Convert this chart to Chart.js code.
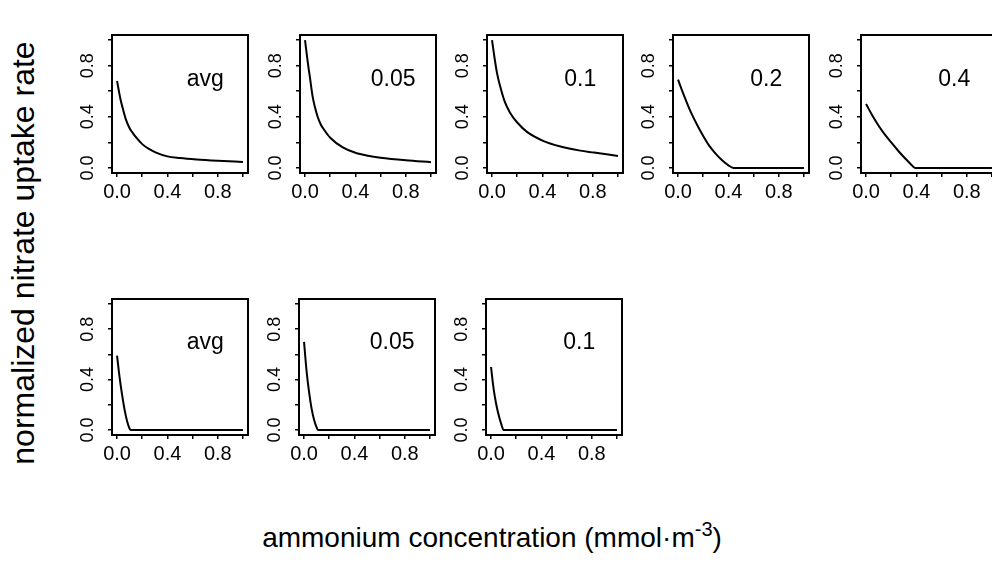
<!DOCTYPE html>
<html>
<head>
<meta charset="utf-8">
<script src="https://cdn.jsdelivr.net/npm/chart.js@4.4.1/dist/chart.umd.min.js"></script>
<style>
  html, body { margin: 0; padding: 0; background: #fff; width: 992px; height: 565px; overflow: hidden; position: relative; font-family: "Liberation Sans", Arial, sans-serif; }
  canvas { position: absolute; }
  .ytitle { position: absolute; font-size: 32px; line-height: 32px; white-space: nowrap; width: 480px; text-align: center; color: #000;
            left: -217px; top: 237px; transform: rotate(-90deg); transform-origin: 240px 16px; }
  .xtitle { position: absolute; font-size: 28px; line-height: 28px; white-space: nowrap; width: 600px; text-align: center; color: #000;
            left: 192px; top: 524px; }
  .xtitle sup { font-size: 20px; line-height: 0; vertical-align: 11px; }
</style>
</head>
<body>
<div class="ytitle">normalized nitrate uptake rate</div>
<div class="xtitle">ammonium concentration (mmol·m<sup>-3</sup>)</div>
<script>
// ---- data ----
const panelLabels = ["avg", "0.05", "0.1", "0.2", "0.4", "avg", "0.05", "0.1"];

const xTopAvg = [0, 0.015, 0.03, 0.05, 0.07, 0.1, 0.12, 0.15, 0.2, 0.25, 0.31, 0.4, 0.5, 0.63, 0.8, 1.0];
const yTopAvg = [0.68, 0.6, 0.525, 0.45, 0.38, 0.31, 0.28, 0.24, 0.186, 0.15, 0.12, 0.09, 0.077, 0.066, 0.056, 0.047];

const xTop005 = [0, 0.02, 0.04, 0.06, 0.08, 0.1, 0.125, 0.15, 0.2, 0.3, 0.4, 0.5, 0.6, 0.8, 1.0];
const yTop005 = [1.0, 0.84, 0.70, 0.56, 0.47, 0.40, 0.34, 0.30, 0.236, 0.16, 0.118, 0.095, 0.08, 0.06, 0.045];

const xTop01 = [0, 0.02, 0.04, 0.064, 0.1, 0.144, 0.2, 0.28, 0.41, 0.544, 0.7, 0.81, 1.0];
const yTop01 = [1.0, 0.86, 0.74, 0.64, 0.52, 0.43, 0.355, 0.28, 0.21, 0.167, 0.135, 0.12, 0.093];

const xTop02 = [0, 0.05, 0.1, 0.15, 0.2, 0.25, 0.3, 0.35, 0.4, 0.44, 0.6, 0.8, 1.0];
const yTop02 = [0.69, 0.56, 0.44, 0.34, 0.25, 0.17, 0.11, 0.06, 0.02, 0.0, 0.0, 0.0, 0.0];

const xTop04 = [0, 0.05, 0.1, 0.15, 0.2, 0.25, 0.3, 0.35, 0.39, 0.6, 0.8, 1.0];
const yTop04 = [0.5, 0.41, 0.33, 0.26, 0.2, 0.14, 0.085, 0.035, 0.0, 0.0, 0.0, 0.0];

const xBottom = [0, 0.02, 0.04, 0.06, 0.08, 0.1, 0.11, 0.3, 0.6, 1.0];
const yBotAvg = [0.59, 0.42, 0.28, 0.16, 0.07, 0.01, 0.0, 0.0, 0.0, 0.0];
const yBot005 = [0.70, 0.47, 0.30, 0.17, 0.08, 0.02, 0.0, 0.0, 0.0, 0.0];
const yBot01  = [0.50, 0.33, 0.21, 0.12, 0.05, 0.0, 0.0, 0.0, 0.0, 0.0];

const axisTicks = [0.0, 0.4, 0.8]; // labelled ticks

const panels = [
  { label: panelLabels[0], xs: xTopAvg, ys: yTopAvg, left: 112, top: 35,  h: 138 },
  { label: panelLabels[1], xs: xTop005, ys: yTop005, left: 300, top: 35,  h: 138 },
  { label: panelLabels[2], xs: xTop01,  ys: yTop01,  left: 487, top: 35,  h: 138 },
  { label: panelLabels[3], xs: xTop02,  ys: yTop02,  left: 673, top: 35,  h: 138 },
  { label: panelLabels[4], xs: xTop04,  ys: yTop04,  left: 861, top: 35,  h: 138 },
  { label: panelLabels[5], xs: xBottom, ys: yBotAvg, left: 112, top: 299, h: 136 },
  { label: panelLabels[6], xs: xBottom, ys: yBot005, left: 299, top: 299, h: 136 },
  { label: panelLabels[7], xs: xBottom, ys: yBot01,  left: 486, top: 299, h: 136 }
];

// ---- layout ----
const PADL = 50, PADT = 6, PADR = 6, PADB = 40, BOXW = 136;
const FONT = "'Liberation Sans', Arial, sans-serif";

function tickLabel(v) {
  for (const t of axisTicks) if (Math.abs(v - t) < 1e-6) return t.toFixed(1);
  return '';
}

const boxPlugin = {
  id: 'boxAndLabel',
  afterDraw(chart, args, opts) {
    const { ctx, chartArea: a } = chart;
    ctx.save();
    ctx.strokeStyle = '#000';
    ctx.lineWidth = 2;
    ctx.strokeRect(a.left, a.top, a.right - a.left, a.bottom - a.top);
    ctx.fillStyle = '#000';
    ctx.font = "23px " + FONT;
    ctx.textAlign = 'center';
    ctx.textBaseline = 'middle';
    ctx.fillText(opts.text, chart.scales.x.getPixelForValue(0.7), chart.scales.y.getPixelForValue(0.69));
    ctx.restore();
  }
};

panels.forEach((p, i) => {
  const c = document.createElement('canvas');
  const w = PADL + BOXW + PADR, h = PADT + p.h + PADB;
  c.width = w; c.height = h;
  c.style.width = w + 'px'; c.style.height = h + 'px';
  c.style.left = (p.left - PADL) + 'px';
  c.style.top = (p.top - PADT) + 'px';
  document.body.appendChild(c);

  new Chart(c.getContext('2d'), {
    type: 'line',
    data: {
      datasets: [{
        data: p.xs.map((x, k) => ({ x: x, y: p.ys[k] })),
        borderColor: '#000',
        borderWidth: 2,
        pointRadius: 0,
        fill: false,
        cubicInterpolationMode: 'monotone'
      }]
    },
    options: {
      responsive: false,
      animation: false,
      events: [],
      layout: { padding: { left: 0, top: PADT, right: PADR, bottom: 0 } },
      plugins: {
        legend: { display: false },
        tooltip: { enabled: false },
        boxAndLabel: { text: p.label }
      },
      scales: {
        x: {
          type: 'linear', min: -0.04, max: 1.04,
          border: { display: false },
          grid: { display: true, drawOnChartArea: false, drawTicks: true, tickLength: 4, color: '#000', lineWidth: 1.5 },
          ticks: { stepSize: 0.2, includeBounds: false, autoSkip: false, minRotation: 0, maxRotation: 0,
                   color: '#000', padding: 3, font: { family: FONT, size: 20 }, callback: (v) => tickLabel(v) },
          afterFit: (s) => { s.height = PADB; s.paddingLeft = 0; s.paddingRight = 0; }
        },
        y: {
          type: 'linear', min: -0.04, max: 1.04,
          border: { display: false },
          grid: { display: true, drawOnChartArea: false, drawTicks: true, tickLength: 4, color: '#000', lineWidth: 1.5 },
          ticks: { stepSize: 0.2, includeBounds: false, autoSkip: false, minRotation: 90, maxRotation: 90, crossAlign: 'center',
                   color: '#000', padding: 7, font: { family: FONT, size: 18 }, callback: (v) => tickLabel(v) },
          afterFit: (s) => { s.width = PADL; s.paddingTop = 0; s.paddingBottom = 0; }
        }
      }
    },
    plugins: [boxPlugin]
  });
});
</script>
</body>
</html>
